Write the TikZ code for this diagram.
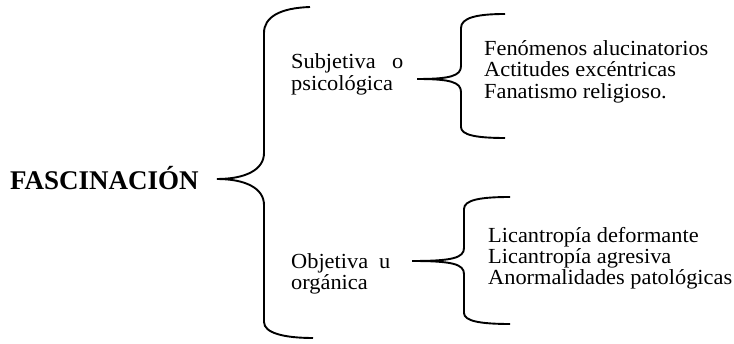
\documentclass[tikz,border=0pt]{standalone}
\usepackage{fontspec}
\setmainfont[FakeStretch=1.04]{Liberation Serif}
\newfontfamily\titlefont{Liberation Serif Bold}
\begin{document}
\begin{tikzpicture}[x=1pt,y=-1pt,
  bracepath/.style={line width=1.9pt, draw=black},
  txt/.style={anchor=base west, inner sep=0pt, font=\fontsize{21.5}{23}\selectfont},
  titletxt/.style={anchor=base west, inner sep=0pt, font=\titlefont\fontsize{27}{30}\selectfont}]
\useasboundingbox (0,0) rectangle (734,344);
\fill[white] (0,0) rectangle (734,344);

\node[titletxt] (fas) at (10,190) {FASCINACIÓN};

\node[txt] (sub1) at (291,69) {\makebox[112pt][s]{Subjetiva o}};
\node[txt] (sub2) at (291,90.5) {psicológica};
\node[txt] (obj1) at (291,269) {\makebox[99pt][s]{Objetiva u}};
\node[txt] (obj2) at (291,290) {orgánica};

\node[txt] (a1) at (484,55.7) {Fenómenos alucinatorios};
\node[txt] (a2) at (484,76.7) {Actitudes excéntricas};
\node[txt] (a3) at (484,98.3) {Fanatismo religioso.};

\node[txt] (b1) at (488,242.7) {Licantropía deformante};
\node[txt] (b2) at (488,263.5) {Licantropía agresiva};
\node[txt] (b3) at (488,285) {Anormalidades patológicas};

% big brace
\coordinate (Ttop) at (310,7);
\coordinate (Ttip) at (217,179);
\coordinate (Tbot) at (313,338);
\draw[bracepath] (Ttop) .. controls (280,8) and (264,17) .. (264,33)
  -- (264,153) .. controls (264,170) and (245,179) .. (Ttip)
  .. controls (245,179) and (264,188) .. (264,205)
  -- (264,322) .. controls (264,333) and (284,338) .. (Tbot);

% upper small brace
\coordinate (Atop) at (505,14);
\coordinate (Atip) at (417,79);
\coordinate (Abot) at (505,138);
\draw[bracepath] (Atop) .. controls (476,14) and (461,18) .. (461,28)
  -- (461,66) .. controls (461,76) and (450,79) .. (Atip)
  .. controls (450,79) and (461,82) .. (461,92)
  -- (461,127) .. controls (461,135) and (476,138) .. (Abot);

% lower small brace
\coordinate (Btop) at (510,197);
\coordinate (Btip) at (412,261);
\coordinate (Bbot) at (510,324);
\draw[bracepath] (Btop) .. controls (480,197) and (464,200) .. (464,209)
  -- (464,248) .. controls (464,258) and (452,261) .. (Btip)
  .. controls (452,261) and (464,264) .. (464,274)
  -- (464,313) .. controls (464,321) and (480,324) .. (Bbot);
\end{tikzpicture}
\end{document}
